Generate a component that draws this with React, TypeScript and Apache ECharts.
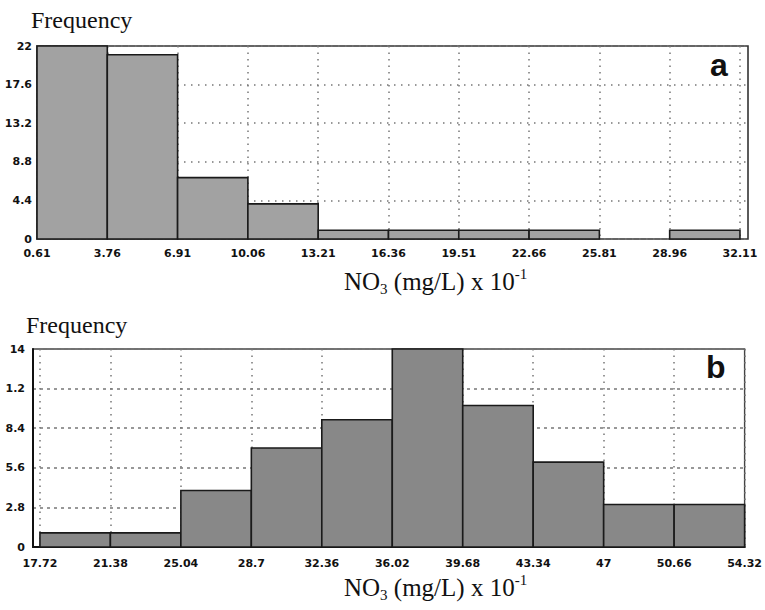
import React, { useEffect, useRef } from 'react';
import * as echarts from 'echarts';

// ---- data (panel a) ----
const edgesA = [0.61, 3.76, 6.91, 10.06, 13.21, 16.36, 19.51, 22.66, 25.81, 28.96, 32.11];
const countsA = [22, 21, 7, 4, 1, 1, 1, 1, 0, 1];
const yTicksA = [0, 4.4, 8.8, 13.2, 17.6, 22];
const yLabelsA = ['0', '4.4', '8.8', '13.2', '17.6', '22'];

// ---- data (panel b) ----
const edgesB = [17.72, 21.38, 25.04, 28.7, 32.36, 36.02, 39.68, 43.34, 47, 50.66, 54.32];
const countsB = [1, 1, 4, 7, 9, 14, 10, 6, 3, 3];
const yTicksB = [0, 2.8, 5.6, 8.4, 11.2, 14];
const yLabelsB = ['0', '2.8', '5.6', '8.4', '1.2', '14'];

const yTitle = 'Frequency';
const panelNames = ['a', 'b'];

const tickFont = { fontFamily: 'DejaVu Sans', fontWeight: 'bold' as const, fontSize: 11, color: '#111' };

function binData(edges: number[], counts: number[]) {
  return counts.map((c, i) => [edges[i], edges[i + 1], c]);
}

function labelFor(ticks: number[], labels: string[]) {
  return (v: number) => {
    let best = -1;
    let bd = Infinity;
    ticks.forEach((t, i) => {
      const d = Math.abs(t - v);
      if (d < bd) { bd = d; best = i; }
    });
    return bd < 1e-6 ? labels[best] : '';
  };
}

function makeRender(fill: string) {
  return (params: any, api: any) => {
    const x0 = api.value(0);
    const x1 = api.value(1);
    const v = api.value(2);
    if (!v) return null;
    const p0 = api.coord([x0, 0]);
    const p1 = api.coord([x1, v]);
    return {
      type: 'rect',
      shape: { x: p0[0], y: p1[1], width: p1[0] - p0[0], height: p0[1] - p1[1] },
      style: { fill, stroke: '#1a1a1a', lineWidth: 1.6 },
    };
  };
}

const titleRich = {
  m: { fontFamily: 'Liberation Serif', fontSize: 25, lineHeight: 30, verticalAlign: 'middle', fill: '#111' },
  s: { fontFamily: 'Liberation Serif', fontSize: 15, lineHeight: 15, verticalAlign: 'bottom', fill: '#111' },
  p: { fontFamily: 'Liberation Serif', fontSize: 15, lineHeight: 15, verticalAlign: 'top', fill: '#111' },
};
const titleText = '{m|NO}{s|3}{m| (mg/L) x 10}{p|-1}';

const gridDot = { color: '#777', width: 1.5 };

export default function App() {
  const ref = useRef<HTMLDivElement>(null);
  useEffect(() => {
    if (!ref.current) return;
    const chart = echarts.init(ref.current, undefined, { renderer: 'svg' });
    const option: any = {
      animation: false,
      backgroundColor: '#fff',
      grid: [
        { left: 37, right: 17, top: 46, height: 193, show: true, borderColor: '#333', borderWidth: 1.6, backgroundColor: 'transparent' },
        { left: 33, right: 15, top: 349, height: 198, show: true, borderColor: '#444', borderWidth: 1.4, backgroundColor: 'transparent' },
      ],
      xAxis: [
        {
          type: 'value', gridIndex: 0, min: edgesA[0], max: 32.47,
          axisLine: { show: false },
          axisTick: { show: false, customValues: edgesA },
          axisLabel: { ...tickFont, margin: 9, customValues: edgesA, formatter: (v: number) => String(+(+v).toFixed(2)) },
          splitLine: { show: true, lineStyle: { ...gridDot, type: [1.5, 5] } },
        },
        {
          type: 'value', gridIndex: 1, min: 17.36, max: edgesB[edgesB.length - 1],
          axisLine: { show: true, onZero: false, lineStyle: { color: '#111', width: 2 } },
          axisTick: { show: false, customValues: edgesB },
          axisLabel: { ...tickFont, margin: 11, customValues: edgesB, formatter: (v: number) => String(+(+v).toFixed(2)) },
          splitLine: { show: true, lineStyle: { ...gridDot, type: [1.5, 5] } },
        },
      ],
      yAxis: [
        {
          type: 'value', gridIndex: 0, min: 0, max: yTicksA[yTicksA.length - 1], interval: yTicksA[1],
          axisLine: { show: false }, axisTick: { show: false },
          axisLabel: { ...tickFont, margin: 5, formatter: labelFor(yTicksA, yLabelsA) },
          splitLine: { show: true, lineStyle: { ...gridDot, type: [1.5, 5.5] } },
        },
        {
          type: 'value', gridIndex: 1, min: 0, max: yTicksB[yTicksB.length - 1], interval: yTicksB[1],
          axisLine: { show: true, lineStyle: { color: '#111', width: 2 } }, axisTick: { show: false },
          axisLabel: { ...tickFont, margin: 8, formatter: labelFor(yTicksB, yLabelsB) },
          splitLine: { show: true, lineStyle: { ...gridDot, type: [3, 4] } },
        },
      ],
      series: [
        {
          type: 'custom', xAxisIndex: 0, yAxisIndex: 0, clip: false,
          renderItem: makeRender('#a2a2a2'),
          encode: { x: [0, 1], y: 2 },
          data: binData(edgesA, countsA),
        },
        {
          type: 'custom', xAxisIndex: 1, yAxisIndex: 1, clip: false,
          renderItem: makeRender('#888888'),
          encode: { x: [0, 1], y: 2 },
          data: binData(edgesB, countsB),
        },
      ],
      graphic: [
        { type: 'text', x: 31, y: 8, style: { text: yTitle, fontFamily: 'Liberation Serif', fontSize: 24, fill: '#111' } },
        { type: 'text', x: 26, y: 313, style: { text: yTitle, fontFamily: 'Liberation Serif', fontSize: 24, fill: '#111' } },
        { type: 'text', x: 344, y: 266, style: { text: titleText, rich: titleRich } },
        { type: 'text', x: 344, y: 572, style: { text: titleText, rich: titleRich } },
        { type: 'text', x: 710, y: 49, style: { text: panelNames[0], fontFamily: 'Liberation Sans', fontWeight: 'bold', fontSize: 32, fill: '#111' } },
        { type: 'text', x: 706, y: 351, style: { text: panelNames[1], fontFamily: 'Liberation Sans', fontWeight: 'bold', fontSize: 32, fill: '#111' } },
      ],
    };
    chart.setOption(option);
    return () => chart.dispose();
  }, []);
  return <div ref={ref} style={{ position: 'fixed', left: 0, top: 0, width: 765, height: 610 }} />;
}
